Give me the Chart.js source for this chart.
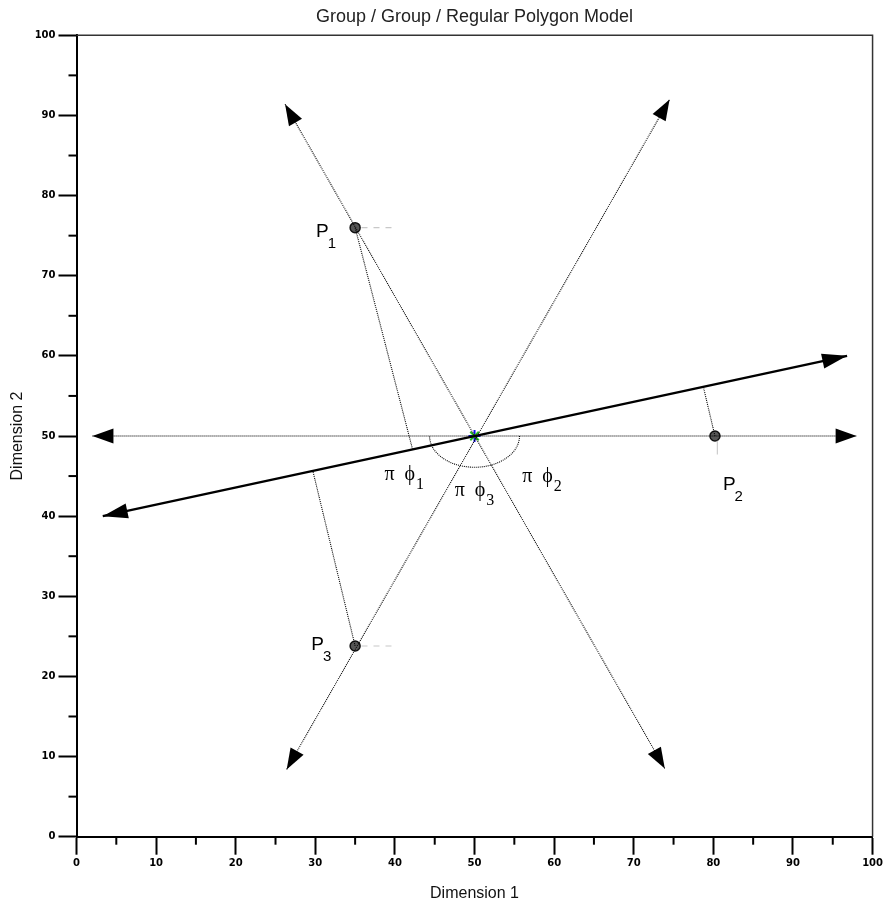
<!DOCTYPE html>
<html>
<head>
<meta charset="utf-8">
<title>Group / Group / Regular Polygon Model</title>
<script src="https://cdn.jsdelivr.net/npm/chart.js@4/dist/chart.umd.min.js"></script>
<style>
    html, body { margin: 0; padding: 0; background: #ffffff; }
    #contenedor { width: 886px; height: 907px; }
</style>
</head>
<body>
<div id="contenedor"><canvas id="grafica" width="886" height="907"></canvas></div>
<script>
// Marcas de los ejes
const ticksMayores = [0, 10, 20, 30, 40, 50, 60, 70, 80, 90, 100];
const ticksMenores = [5, 15, 25, 35, 45, 55, 65, 75, 85, 95];

// Centro del grupo y puntos del polígono
const centro = [{ x: 50, y: 50 }];
const puntos = [{ x: 35, y: 76 }, { x: 80.2, y: 50 }, { x: 35, y: 23.8 }];

// Ejes con flecha (extremos)
const ejeHorizontal = [{ x: 2, y: 50 }, { x: 98, y: 50 }];
const eje60 = [{ x: 26.4, y: 8.4 }, { x: 74.5, y: 92 }];
const eje120 = [{ x: 26.2, y: 91.4 }, { x: 73.9, y: 8.5 }];
const lineaGrupo = [{ x: 3.3, y: 40 }, { x: 96.8, y: 60 }];

// Pies de las proyecciones sobre la línea del grupo
const pies = [{ x: 42.2, y: 48.4 }, { x: 78.8, y: 55.9 }, { x: 29.7, y: 45.6 }];

// Marcas grises junto a cada punto
const marcaP1 = [{ x: 35.8, y: 76 }, { x: 40, y: 76 }];
const marcaP2 = [{ x: 80.5, y: 49.4 }, { x: 80.5, y: 47.7 }];
const marcaP3 = [{ x: 35.8, y: 23.8 }, { x: 40, y: 23.8 }];

// Arco de los ángulos (centro, radio x, radio y en unidades de datos)
const arcoCentro = { x: 50, y: 50 };
const arcoRadios = [5.65, 3.9];

// Etiquetas
const etiquetasP = ['1', '2', '3'];
const posEtiquetasP = [{ x: 30.1, y: 75.7 }, { x: 81.2, y: 44.1 }, { x: 29.5, y: 24.2 }];
const etiquetasPhi = ['1', '2', '3'];
const posEtiquetasPhi = [{ x: 38.7, y: 45.3 }, { x: 56.0, y: 45.0 }, { x: 47.5, y: 43.2 }];

const lineaPunteada = (datos, extra) => Object.assign({
    type: 'line',
    data: datos,
    borderColor: '#000000',
    borderWidth: 1.1,
    borderDash: [1, 1],
    pointRadius: 0,
    fill: false,
    tension: 0
}, extra || {});

// Flechas en los extremos de las líneas
const pluginFlechas = {
    id: 'flechas',
    afterDatasetsDraw(chart) {
        const ctx = chart.ctx;
        chart.data.datasets.forEach((ds, i) => {
            if (!ds.flecha) return;
            const pts = chart.getDatasetMeta(i).data;
            const dibujar = (a, b) => {
                const ang = Math.atan2(b.y - a.y, b.x - a.x);
                const L = ds.flecha.largo, W = ds.flecha.ancho / 2;
                ctx.save();
                ctx.translate(b.x, b.y);
                ctx.rotate(ang);
                ctx.beginPath();
                ctx.moveTo(0, 0);
                ctx.lineTo(-L, -W);
                ctx.lineTo(-L, W);
                ctx.closePath();
                ctx.fillStyle = '#000000';
                ctx.fill();
                ctx.restore();
            };
            dibujar(pts[0], pts[1]);
            dibujar(pts[1], pts[0]);
        });
    }
};

// Marco superior/derecho, marcas menores, arco y textos
const pluginExtras = {
    id: 'extras',
    beforeDatasetsDraw(chart) {
        const ctx = chart.ctx;
        const { x: sx, y: sy } = chart.scales;
        const area = chart.chartArea;

        ctx.save();
        ctx.strokeStyle = '#333333';
        ctx.lineWidth = 1.5;
        ctx.beginPath();
        ctx.moveTo(area.left, area.top);
        ctx.lineTo(area.right, area.top);
        ctx.lineTo(area.right, area.bottom);
        ctx.stroke();

        ctx.strokeStyle = '#000000';
        ctx.lineWidth = 2;
        ticksMenores.forEach(v => {
            const px = sx.getPixelForValue(v);
            ctx.beginPath();
            ctx.moveTo(px, area.bottom);
            ctx.lineTo(px, area.bottom + 8);
            ctx.stroke();
            const py = sy.getPixelForValue(v);
            ctx.beginPath();
            ctx.moveTo(area.left, py);
            ctx.lineTo(area.left - 8, py);
            ctx.stroke();
        });

        // arco inferior de los ángulos
        const cx = sx.getPixelForValue(arcoCentro.x);
        const cy = sy.getPixelForValue(arcoCentro.y);
        const rx = sx.getPixelForValue(arcoCentro.x + arcoRadios[0]) - cx;
        const ry = sy.getPixelForValue(arcoCentro.y - arcoRadios[1]) - cy;
        ctx.strokeStyle = '#000000';
        ctx.lineWidth = 1.1;
        ctx.setLineDash([1, 1]);
        ctx.beginPath();
        ctx.ellipse(cx, cy, rx, ry, 0, 0, Math.PI);
        ctx.stroke();
        ctx.restore();
    },
    afterDraw(chart) {
        const ctx = chart.ctx;
        const { x: sx, y: sy } = chart.scales;
        const area = chart.chartArea;

        ctx.save();
        ctx.fillStyle = '#222222';
        ctx.textAlign = 'center';
        ctx.textBaseline = 'middle';
        ctx.font = '18px "Liberation Sans", Arial, sans-serif';
        ctx.fillText('Group / Group / Regular Polygon Model', (area.left + area.right) / 2, 17);

        ctx.fillStyle = '#000000';
        ctx.textAlign = 'left';
        ctx.textBaseline = 'alphabetic';
        etiquetasP.forEach((s, i) => {
            const px = sx.getPixelForValue(posEtiquetasP[i].x);
            const py = sy.getPixelForValue(posEtiquetasP[i].y);
            ctx.font = '19px "Liberation Sans", Arial, sans-serif';
            ctx.fillText('P', px, py + 7);
            const w = ctx.measureText('P').width;
            ctx.font = '15px "Liberation Sans", Arial, sans-serif';
            ctx.fillText(s, px + w - 1, py + 18);
        });

        etiquetasPhi.forEach((s, i) => {
            const px = sx.getPixelForValue(posEtiquetasPhi[i].x);
            const py = sy.getPixelForValue(posEtiquetasPhi[i].y);
            ctx.font = '20px "Liberation Serif", "Times New Roman", serif';
            ctx.fillText('\u03C0', px, py + 6);
            ctx.fillText('\u03D5', px + 20, py + 6);
            const w = ctx.measureText('\u03D5').width;
            ctx.font = '16px "Liberation Serif", "Times New Roman", serif';
            ctx.fillText(s, px + 20 + w + 1, py + 15);
        });
        ctx.restore();
    }
};

const configEje = (titulo, posicion) => ({
    type: 'linear',
    position: posicion,
    min: 0,
    max: 100,
    border: { display: true, color: '#000000', width: 2 },
    grid: {
        display: true,
        drawOnChartArea: false,
        drawTicks: true,
        tickLength: 18,
        tickColor: '#000000',
        tickWidth: 2
    },
    ticks: {
        stepSize: 10,
        autoSkip: false,
        maxRotation: 0,
        padding: 3,
        color: '#000000',
        font: { family: '"DejaVu Sans", sans-serif', size: 10, weight: 'bold' }
    },
    title: {
        display: true,
        text: titulo,
        color: '#111111',
        font: { family: '"Liberation Sans", Arial, sans-serif', size: 16 },
        padding: posicion === 'bottom' ? { top: 0, bottom: 4 } : { top: 8, bottom: 0 }
    },
    afterBuildTicks(scale) {
        scale.ticks = ticksMayores.map(v => ({ value: v }));
    },
    afterFit(scale) {
        if (posicion === 'bottom') scale.height = 70.3;
        else scale.width = 76.5;
    }
});

const ctx = document.getElementById('grafica').getContext('2d');
new Chart(ctx, {
    type: 'scatter',
    data: {
        datasets: [
            lineaPunteada(ejeHorizontal, { flecha: { largo: 21, ancho: 15 } }),
            lineaPunteada(eje60, { flecha: { largo: 21, ancho: 15 } }),
            lineaPunteada(eje120, { flecha: { largo: 21, ancho: 15 } }),
            lineaPunteada([puntos[0], pies[0]]),
            lineaPunteada([puntos[1], pies[1]]),
            lineaPunteada([puntos[2], pies[2]]),
            lineaPunteada(marcaP1, { borderColor: '#c8c8c8', borderDash: [6, 6] }),
            lineaPunteada(marcaP2, { borderColor: '#c8c8c8', borderDash: [] }),
            lineaPunteada(marcaP3, { borderColor: '#c8c8c8', borderDash: [6, 6] }),
            {
                type: 'line',
                data: lineaGrupo,
                borderColor: '#000000',
                borderWidth: 2.5,
                pointRadius: 0,
                fill: false,
                flecha: { largo: 25, ancho: 15 }
            },
            {
                data: puntos,
                pointStyle: 'circle',
                pointRadius: 5,
                backgroundColor: '#555555',
                borderColor: '#111111',
                borderWidth: 1.5
            },
            {
                data: centro,
                pointStyle: 'crossRot',
                pointRadius: 6,
                borderColor: '#22bb22',
                borderWidth: 2
            },
            {
                data: centro,
                pointStyle: 'cross',
                pointRadius: 6,
                borderColor: '#1010ee',
                borderWidth: 2
            }
        ]
    },
    options: {
        responsive: false,
        animation: false,
        layout: { padding: { top: 35.3, right: 12.5, left: 0, bottom: 0 } },
        plugins: {
            legend: { display: false },
            tooltip: { enabled: false },
            title: { display: false }
        },
        scales: {
            x: configEje('Dimension 1', 'bottom'),
            y: configEje('Dimension 2', 'left')
        }
    },
    plugins: [pluginExtras, pluginFlechas]
});
</script>
</body>
</html>
